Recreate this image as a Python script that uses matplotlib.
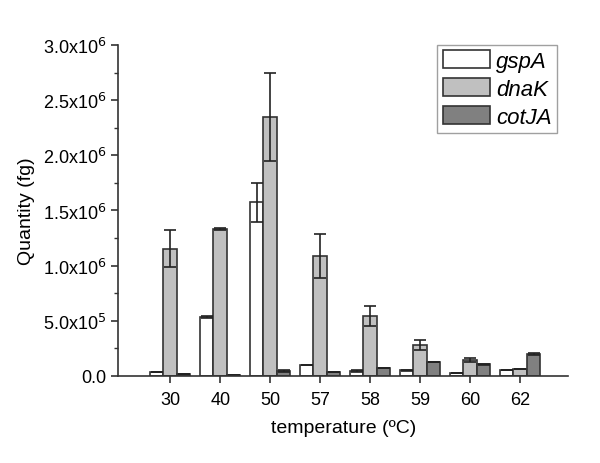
import matplotlib
matplotlib.use("Agg")
import matplotlib.pyplot as plt
from matplotlib.ticker import FuncFormatter, MultipleLocator
import numpy as np

plt.rcParams['font.family'] = ['Liberation Sans', 'DejaVu Sans']

temps = ['30', '40', '50', '57', '58', '59', '60', '62']
gspA = [0.035e6, 0.535e6, 1.575e6, 0.10e6, 0.045e6, 0.05e6, 0.03e6, 0.05e6]
gspA_err = [0, 0.005e6, 0.175e6, 0, 0.005e6, 0.005e6, 0, 0]
dnaK = [1.155e6, 1.33e6, 2.35e6, 1.09e6, 0.545e6, 0.285e6, 0.145e6, 0.06e6]
dnaK_err = [0.165e6, 0.008e6, 0.40e6, 0.20e6, 0.09e6, 0.045e6, 0.02e6, 0]
cotJA = [0.015e6, 0.01e6, 0.045e6, 0.04e6, 0.07e6, 0.127e6, 0.105e6, 0.20e6]
cotJA_err = [0, 0, 0.005e6, 0, 0, 0, 0.005e6, 0.008e6]

x = np.arange(1, len(temps) + 1)
w = 0.27
edge = '#333333'

fig = plt.figure(figsize=(6, 4.64), dpi=100)
ax = fig.add_axes([0.197, 0.1875, 0.75, 0.7135])

ekw = dict(ecolor='#222222', elinewidth=1.2, capsize=4, capthick=1.2)
ax.bar(x - w, gspA, w, yerr=gspA_err, color='white', edgecolor=edge, linewidth=1.2, label='gspA', error_kw=ekw)
ax.bar(x, dnaK, w, yerr=dnaK_err, color='#c0c0c0', edgecolor=edge, linewidth=1.2, label='dnaK', error_kw=ekw)
ax.bar(x + w, cotJA, w, yerr=cotJA_err, color='#808080', edgecolor=edge, linewidth=1.2, label='cotJA', error_kw=ekw)

ax.set_xlim(-0.04, 8.96)
ax.set_ylim(0, 3.0e6)
ax.set_xticks(x)
ax.set_xticklabels(temps)
ax.yaxis.set_major_locator(MultipleLocator(5e5))
ax.yaxis.set_minor_locator(MultipleLocator(2.5e5))


def fmt(v, pos):
    if v <= 0:
        return '0.0'
    e = int(np.floor(np.log10(v)))
    m = v / 10 ** e
    return '%.1fx10$^{%d}$' % (m, e)


ax.yaxis.set_major_formatter(FuncFormatter(fmt))
for s in ['top', 'right']:
    ax.spines[s].set_visible(False)
for s in ['left', 'bottom']:
    ax.spines[s].set_color('#333333')
    ax.spines[s].set_linewidth(1.2)
ax.tick_params(axis='both', which='major', labelsize=13, length=5, width=1.2, color='#333333')
ax.tick_params(axis='x', which='major', pad=6)
ax.tick_params(axis='y', which='minor', length=3, width=1.0, color='#333333')

ax.set_xlabel('temperature (ºC)', fontsize=14, labelpad=8)
ax.set_ylabel('Quantity (fg)', fontsize=14, labelpad=6)

leg = ax.legend(loc='upper right', bbox_to_anchor=(0.976, 1.0), borderaxespad=0, fontsize=16,
                frameon=True, fancybox=False, edgecolor='#888888', handlelength=2.1, handleheight=0.85,
                labelspacing=0.28, borderpad=0.25, handletextpad=0.3)
for t in leg.get_texts():
    t.set_fontstyle('italic')

fig.savefig('out.png', dpi=100)
